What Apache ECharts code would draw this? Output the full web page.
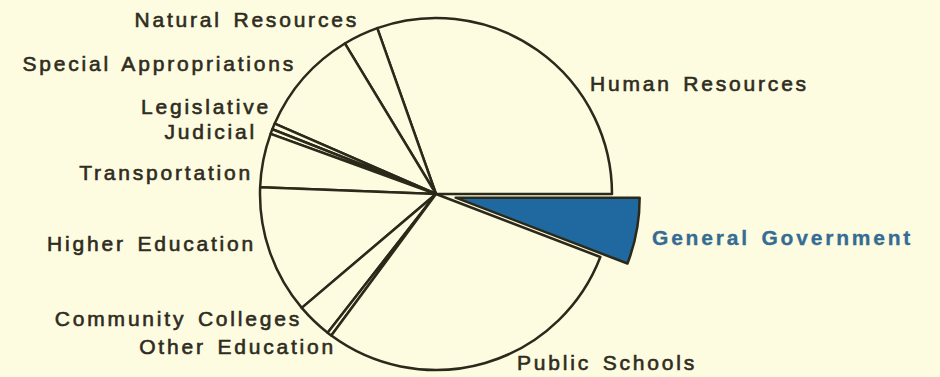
<!DOCTYPE html>
<html>
<head>
<meta charset="utf-8">
<script src="https://cdn.jsdelivr.net/npm/echarts@6/dist/echarts.min.js"></script>
<style>
  html, body { margin: 0; padding: 0; background: #fdfbe0; }
  #chart { width: 940px; height: 377px; }
  #chart text { letter-spacing: 2.8px; word-spacing: 3px; }
</style>
</head>
<body>
<div id="chart"></div>
<script>
// ---- data (percent of budget, counter-clockwise from east) ----
const categories = [
  'Human Resources', 'Natural Resources', 'Special Appropriations',
  'Legislative', 'Judicial', 'Transportation', 'Higher Education',
  'Community Colleges', 'Other Education', 'Public Schools', 'General Government'
];
const shares = [30.42, 3.25, 9.78, 0.56, 0.44, 4.94, 11.81, 3.25, 0.42, 29.31, 5.83];
const highlighted = 'General Government';

// ---- layout / style ----
const BG = '#fdfbe0';
const INK = '#2b2919';
const TEXT = '#2e2c20';
const BLUE = '#1f68a0';
const BLUE_TEXT = '#356c94';
const center = [436, 194];
const radius = 176;
const highlightRadius = 184;
const explodeDistance = 20;

// label anchors (hand-placed as in the original)
const labelAnchors = {
  'Human Resources':        { x: 590, y: 83,  align: 'left'  },
  'Natural Resources':      { x: 359, y: 19,  align: 'right' },
  'Special Appropriations': { x: 296, y: 63,  align: 'right' },
  'Legislative':            { x: 271, y: 106, align: 'right' },
  'Judicial':               { x: 257, y: 131, align: 'right' },
  'Transportation':         { x: 253, y: 172, align: 'right' },
  'Higher Education':       { x: 256, y: 243, align: 'right' },
  'Community Colleges':     { x: 302, y: 318, align: 'right' },
  'Other Education':        { x: 336, y: 346, align: 'right' },
  'Public Schools':         { x: 517, y: 362, align: 'left'  },
  'General Government':     { x: 652, y: 237, align: 'left'  }
};

const font = { fontFamily: '"Liberation Sans", Arial, sans-serif', fontSize: 21 };

// explode the highlighted slice along its bisector (computed from the data)
const total = shares.reduce((a, b) => a + b, 0);
const hiIndex = categories.indexOf(highlighted);
const before = shares.slice(0, hiIndex).reduce((a, b) => a + b, 0);
const midAngle = ((before + shares[hiIndex] / 2) / total) * 2 * Math.PI; // ccw from east
const hiCenter = [
  center[0] + explodeDistance * Math.cos(midAngle),
  center[1] - explodeDistance * Math.sin(midAngle)
];

function baseData() {
  return categories.map((c, i) => ({ name: c, value: shares[i] }));
}

const mainData = baseData().map(d => {
  if (d.name === highlighted) {
    d.itemStyle = { color: 'rgba(0,0,0,0)', borderWidth: 0 };
    d.label = { show: false };
  }
  return d;
});

const hiData = baseData().map(d => {
  if (d.name === highlighted) {
    d.itemStyle = { color: BLUE, borderColor: INK, borderWidth: 2.5 };
    d.label = { show: true, color: BLUE_TEXT, fontWeight: 'bold', textBorderColor: BLUE_TEXT, textBorderWidth: 0.3 };
  } else {
    d.itemStyle = { color: 'rgba(0,0,0,0)', borderWidth: 0 };
    d.label = { show: false };
  }
  return d;
});

function layoutFn(p) {
  const a = labelAnchors[categories[p.dataIndex]];
  return { x: a.x, y: a.y, align: a.align, verticalAlign: 'middle' };
}

const chart = echarts.init(document.getElementById('chart'), null, { renderer: 'svg' });
chart.setOption({
  backgroundColor: BG,
  animation: false,
  series: [
    {
      type: 'pie',
      center: center,
      radius: radius,
      startAngle: 0,
      clockwise: false,
      avoidLabelOverlap: false,
      selectedMode: false,
      emphasis: { disabled: true },
      itemStyle: { color: BG, borderColor: INK, borderWidth: 2.5 },
      label: Object.assign({
        show: true, position: 'outside', color: TEXT,
        textBorderColor: TEXT, textBorderWidth: 0.6
      }, font),
      labelLine: { show: false },
      labelLayout: layoutFn,
      data: mainData
    },
    {
      type: 'pie',
      center: hiCenter,
      radius: highlightRadius,
      startAngle: 0,
      clockwise: false,
      avoidLabelOverlap: false,
      selectedMode: false,
      emphasis: { disabled: true },
      label: Object.assign({ show: false, position: 'outside' }, font),
      labelLine: { show: false },
      labelLayout: layoutFn,
      data: hiData
    }
  ]
});
</script>
</body>
</html>
